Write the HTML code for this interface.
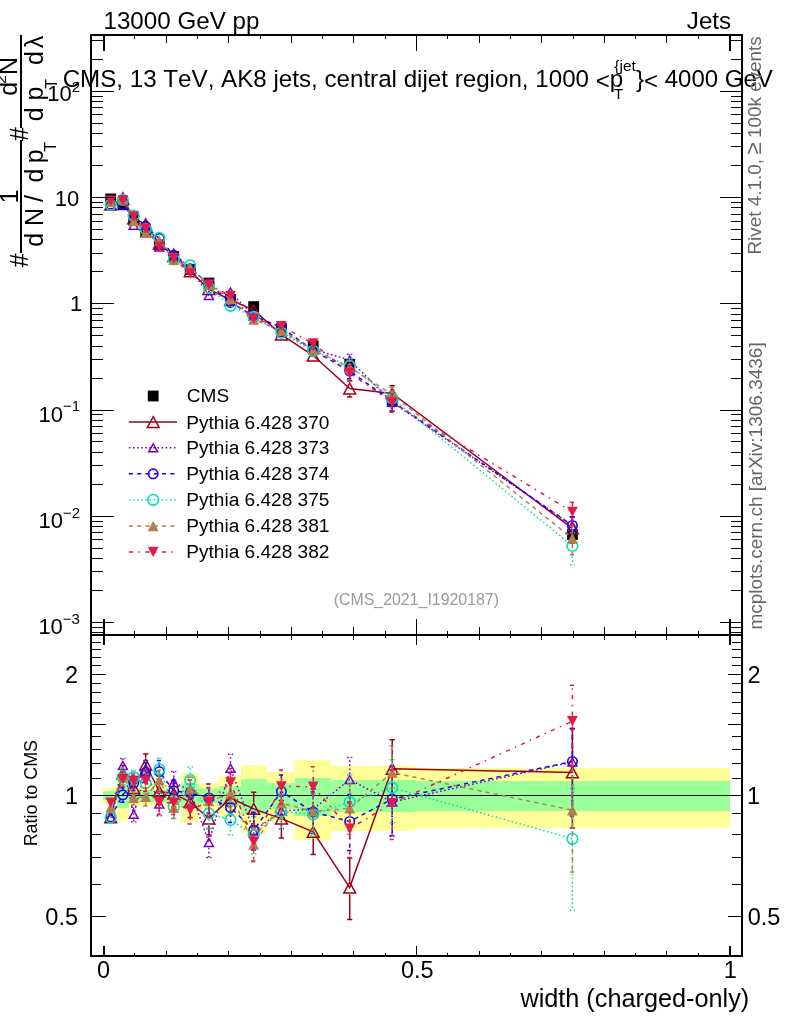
<!DOCTYPE html>
<html lang="en">
<head>
<meta charset="utf-8">
<title>width (charged-only) – CMS 13 TeV jets</title>
<style>html,body{margin:0;padding:0;background:#fff;}svg{display:block;will-change:transform;}</style>
</head>
<body>
<svg width="786" height="1024" viewBox="0 0 786 1024" font-family='"Liberation Sans", Arial, Helvetica, sans-serif' style="font-kerning:none">
<rect x="0" y="0" width="786" height="1024" fill="#fff"/>
<g shape-rendering="crispEdges">
<rect x="103.0" y="787.8" width="14.0" height="15.7" fill="#ffff99"/>
<rect x="117.0" y="773.1" width="11.5" height="48.1" fill="#ffff99"/>
<rect x="128.5" y="785.7" width="10.2" height="20.3" fill="#ffff99"/>
<rect x="138.7" y="785.3" width="14.0" height="21.0" fill="#ffff99"/>
<rect x="152.7" y="785.3" width="13.2" height="21.0" fill="#ffff99"/>
<rect x="165.9" y="785.0" width="15.2" height="21.7" fill="#ffff99"/>
<rect x="181.1" y="772.6" width="18.1" height="49.2" fill="#ffff99"/>
<rect x="199.2" y="782.9" width="19.9" height="26.2" fill="#ffff99"/>
<rect x="219.1" y="776.4" width="22.2" height="40.7" fill="#ffff99"/>
<rect x="241.3" y="764.6" width="25.7" height="68.6" fill="#ffff99"/>
<rect x="267.0" y="772.2" width="28.1" height="50.2" fill="#ffff99"/>
<rect x="295.1" y="760.0" width="35.9" height="80.2" fill="#ffff99"/>
<rect x="331.0" y="766.2" width="37.5" height="64.6" fill="#ffff99"/>
<rect x="368.5" y="766.2" width="46.9" height="64.6" fill="#ffff99"/>
<rect x="415.4" y="768.1" width="314.6" height="59.9" fill="#ffff99"/>
<rect x="103.0" y="790.9" width="14.0" height="9.4" fill="#99ff99"/>
<rect x="117.0" y="783.7" width="11.5" height="24.5" fill="#99ff99"/>
<rect x="128.5" y="789.8" width="10.2" height="11.5" fill="#99ff99"/>
<rect x="138.7" y="789.7" width="14.0" height="11.9" fill="#99ff99"/>
<rect x="152.7" y="789.7" width="13.2" height="11.9" fill="#99ff99"/>
<rect x="165.9" y="789.5" width="15.2" height="12.2" fill="#99ff99"/>
<rect x="181.1" y="783.7" width="18.1" height="24.5" fill="#99ff99"/>
<rect x="199.2" y="788.7" width="19.9" height="14.0" fill="#99ff99"/>
<rect x="219.1" y="785.8" width="22.2" height="19.9" fill="#99ff99"/>
<rect x="241.3" y="779.2" width="25.7" height="34.3" fill="#99ff99"/>
<rect x="267.0" y="782.9" width="28.1" height="26.2" fill="#99ff99"/>
<rect x="295.1" y="777.5" width="35.9" height="38.2" fill="#99ff99"/>
<rect x="331.0" y="780.1" width="37.5" height="32.2" fill="#99ff99"/>
<rect x="368.5" y="780.1" width="46.9" height="32.2" fill="#99ff99"/>
<rect x="415.4" y="781.3" width="314.6" height="29.7" fill="#99ff99"/>
</g>
<rect x="92" y="795" width="649" height="1" fill="#000"/>
<g>
<rect x="105.30" y="193.50" width="10.8" height="10.8" fill="#000"/>
<rect x="117.50" y="199.40" width="10.8" height="10.8" fill="#000"/>
<rect x="128.30" y="215.00" width="10.8" height="10.8" fill="#000"/>
<rect x="140.30" y="227.10" width="10.8" height="10.8" fill="#000"/>
<rect x="153.90" y="239.40" width="10.8" height="10.8" fill="#000"/>
<rect x="168.40" y="251.10" width="10.8" height="10.8" fill="#000"/>
<rect x="184.80" y="264.10" width="10.8" height="10.8" fill="#000"/>
<rect x="203.50" y="277.60" width="10.8" height="10.8" fill="#000"/>
<rect x="225.10" y="293.90" width="10.8" height="10.8" fill="#000"/>
<rect x="248.30" y="301.20" width="10.8" height="10.8" fill="#000"/>
<rect x="276.00" y="323.10" width="10.8" height="10.8" fill="#000"/>
<rect x="307.80" y="340.50" width="10.8" height="10.8" fill="#000"/>
<rect x="344.30" y="358.80" width="10.8" height="10.8" fill="#000"/>
<rect x="386.80" y="395.10" width="10.8" height="10.8" fill="#000"/>
<rect x="567.00" y="529.10" width="10.8" height="10.8" fill="#000"/>
<polyline points="110.70,204.66 122.90,198.93 133.70,218.42 145.70,224.30 159.30,243.72 173.80,256.02 190.20,271.27 208.90,289.11 230.50,299.96 253.70,310.14 281.40,334.61 313.20,355.50 349.70,388.55 392.20,393.44 572.40,528.39" fill="none" stroke="#9b0019" stroke-width="1.5"/>
<path d="M349.70 381.85 V380.75 M347.10 380.75 H352.30" fill="none" stroke="#9b0019" stroke-width="1.5"/>
<path d="M349.70 395.25 V397.01 M347.10 397.01 H352.30" fill="none" stroke="#9b0019" stroke-width="1.5"/>
<path d="M392.20 386.74 V385.77 M389.60 385.77 H394.80" fill="none" stroke="#9b0019" stroke-width="1.5"/>
<path d="M392.20 400.14 V402.17 M389.60 402.17 H394.80" fill="none" stroke="#9b0019" stroke-width="1.5"/>
<path d="M572.40 521.69 V516.76 M569.80 516.76 H575.00" fill="none" stroke="#9b0019" stroke-width="1.5"/>
<path d="M572.40 535.09 V543.09 M569.80 543.09 H575.00" fill="none" stroke="#9b0019" stroke-width="1.5"/>
<path d="M110.70 199.26 L116.60 210.06 L104.80 210.06 Z" fill="none" stroke="#9b0019" stroke-width="1.5" stroke-linejoin="miter"/>
<path d="M122.90 193.53 L128.80 204.33 L117.00 204.33 Z" fill="none" stroke="#9b0019" stroke-width="1.5" stroke-linejoin="miter"/>
<path d="M133.70 213.02 L139.60 223.82 L127.80 223.82 Z" fill="none" stroke="#9b0019" stroke-width="1.5" stroke-linejoin="miter"/>
<path d="M145.70 218.90 L151.60 229.70 L139.80 229.70 Z" fill="none" stroke="#9b0019" stroke-width="1.5" stroke-linejoin="miter"/>
<path d="M159.30 238.32 L165.20 249.12 L153.40 249.12 Z" fill="none" stroke="#9b0019" stroke-width="1.5" stroke-linejoin="miter"/>
<path d="M173.80 250.62 L179.70 261.42 L167.90 261.42 Z" fill="none" stroke="#9b0019" stroke-width="1.5" stroke-linejoin="miter"/>
<path d="M190.20 265.87 L196.10 276.67 L184.30 276.67 Z" fill="none" stroke="#9b0019" stroke-width="1.5" stroke-linejoin="miter"/>
<path d="M208.90 283.71 L214.80 294.51 L203.00 294.51 Z" fill="none" stroke="#9b0019" stroke-width="1.5" stroke-linejoin="miter"/>
<path d="M230.50 294.56 L236.40 305.36 L224.60 305.36 Z" fill="none" stroke="#9b0019" stroke-width="1.5" stroke-linejoin="miter"/>
<path d="M253.70 304.74 L259.60 315.54 L247.80 315.54 Z" fill="none" stroke="#9b0019" stroke-width="1.5" stroke-linejoin="miter"/>
<path d="M281.40 329.21 L287.30 340.01 L275.50 340.01 Z" fill="none" stroke="#9b0019" stroke-width="1.5" stroke-linejoin="miter"/>
<path d="M313.20 350.10 L319.10 360.90 L307.30 360.90 Z" fill="none" stroke="#9b0019" stroke-width="1.5" stroke-linejoin="miter"/>
<path d="M349.70 383.15 L355.60 393.95 L343.80 393.95 Z" fill="none" stroke="#9b0019" stroke-width="1.5" stroke-linejoin="miter"/>
<path d="M392.20 388.04 L398.10 398.84 L386.30 398.84 Z" fill="none" stroke="#9b0019" stroke-width="1.5" stroke-linejoin="miter"/>
<path d="M572.40 522.99 L578.30 533.79 L566.50 533.79 Z" fill="none" stroke="#9b0019" stroke-width="1.5" stroke-linejoin="miter"/>
<polyline points="110.70,204.72 122.90,196.87 133.70,225.37 145.70,225.76 159.30,247.02 173.80,253.04 190.20,268.18 208.90,295.40 230.50,292.08 253.70,315.99 281.40,332.60 313.20,349.52 349.70,359.97 392.20,402.22 572.40,525.64" fill="none" stroke="#7a00c0" stroke-width="1.5" stroke-dasharray="1.6 2.5"/>
<path d="M313.20 354.82 V355.18 M310.60 355.18 H315.80" fill="none" stroke="#7a00c0" stroke-width="1.5" stroke-dasharray="1.6 2.5"/>
<path d="M349.70 354.67 V354.15 M347.10 354.15 H352.30" fill="none" stroke="#7a00c0" stroke-width="1.5" stroke-dasharray="1.6 2.5"/>
<path d="M349.70 365.27 V366.32 M347.10 366.32 H352.30" fill="none" stroke="#7a00c0" stroke-width="1.5" stroke-dasharray="1.6 2.5"/>
<path d="M392.20 396.92 V393.76 M389.60 393.76 H394.80" fill="none" stroke="#7a00c0" stroke-width="1.5" stroke-dasharray="1.6 2.5"/>
<path d="M392.20 407.52 V411.27 M389.60 411.27 H394.80" fill="none" stroke="#7a00c0" stroke-width="1.5" stroke-dasharray="1.6 2.5"/>
<path d="M572.40 520.34 V516.92 M569.80 516.92 H575.00" fill="none" stroke="#7a00c0" stroke-width="1.5" stroke-dasharray="1.6 2.5"/>
<path d="M572.40 530.94 V538.86 M569.80 538.86 H575.00" fill="none" stroke="#7a00c0" stroke-width="1.5" stroke-dasharray="1.6 2.5"/>
<path d="M110.70 200.72 L115.20 208.72 L106.20 208.72 Z" fill="none" stroke="#7a00c0" stroke-width="1.5" stroke-linejoin="miter"/>
<path d="M122.90 192.87 L127.40 200.87 L118.40 200.87 Z" fill="none" stroke="#7a00c0" stroke-width="1.5" stroke-linejoin="miter"/>
<path d="M133.70 221.37 L138.20 229.37 L129.20 229.37 Z" fill="none" stroke="#7a00c0" stroke-width="1.5" stroke-linejoin="miter"/>
<path d="M145.70 221.76 L150.20 229.76 L141.20 229.76 Z" fill="none" stroke="#7a00c0" stroke-width="1.5" stroke-linejoin="miter"/>
<path d="M159.30 243.02 L163.80 251.02 L154.80 251.02 Z" fill="none" stroke="#7a00c0" stroke-width="1.5" stroke-linejoin="miter"/>
<path d="M173.80 249.04 L178.30 257.04 L169.30 257.04 Z" fill="none" stroke="#7a00c0" stroke-width="1.5" stroke-linejoin="miter"/>
<path d="M190.20 264.18 L194.70 272.18 L185.70 272.18 Z" fill="none" stroke="#7a00c0" stroke-width="1.5" stroke-linejoin="miter"/>
<path d="M208.90 291.40 L213.40 299.40 L204.40 299.40 Z" fill="none" stroke="#7a00c0" stroke-width="1.5" stroke-linejoin="miter"/>
<path d="M230.50 288.08 L235.00 296.08 L226.00 296.08 Z" fill="none" stroke="#7a00c0" stroke-width="1.5" stroke-linejoin="miter"/>
<path d="M253.70 311.99 L258.20 319.99 L249.20 319.99 Z" fill="none" stroke="#7a00c0" stroke-width="1.5" stroke-linejoin="miter"/>
<path d="M281.40 328.60 L285.90 336.60 L276.90 336.60 Z" fill="none" stroke="#7a00c0" stroke-width="1.5" stroke-linejoin="miter"/>
<path d="M313.20 345.52 L317.70 353.52 L308.70 353.52 Z" fill="none" stroke="#7a00c0" stroke-width="1.5" stroke-linejoin="miter"/>
<path d="M349.70 355.97 L354.20 363.97 L345.20 363.97 Z" fill="none" stroke="#7a00c0" stroke-width="1.5" stroke-linejoin="miter"/>
<path d="M392.20 398.22 L396.70 406.22 L387.70 406.22 Z" fill="none" stroke="#7a00c0" stroke-width="1.5" stroke-linejoin="miter"/>
<path d="M572.40 521.64 L576.90 529.64 L567.90 529.64 Z" fill="none" stroke="#7a00c0" stroke-width="1.5" stroke-linejoin="miter"/>
<polyline points="110.70,204.58 122.90,204.61 133.70,217.10 145.70,226.37 159.30,238.48 173.80,255.28 190.20,268.87 208.90,283.66 230.50,302.47 253.70,315.77 281.40,327.44 313.20,350.26 349.70,371.07 392.20,401.43 572.40,525.51" fill="none" stroke="#1e00f0" stroke-width="1.5" stroke-dasharray="4.2 4.1"/>
<path d="M313.20 355.76 V355.92 M310.60 355.92 H315.80" fill="none" stroke="#1e00f0" stroke-width="1.5" stroke-dasharray="4.2 4.1"/>
<path d="M349.70 365.57 V363.94 M347.10 363.94 H352.30" fill="none" stroke="#1e00f0" stroke-width="1.5" stroke-dasharray="4.2 4.1"/>
<path d="M349.70 376.57 V378.71 M347.10 378.71 H352.30" fill="none" stroke="#1e00f0" stroke-width="1.5" stroke-dasharray="4.2 4.1"/>
<path d="M392.20 395.93 V392.70 M389.60 392.70 H394.80" fill="none" stroke="#1e00f0" stroke-width="1.5" stroke-dasharray="4.2 4.1"/>
<path d="M392.20 406.93 V411.10 M389.60 411.10 H394.80" fill="none" stroke="#1e00f0" stroke-width="1.5" stroke-dasharray="4.2 4.1"/>
<path d="M572.40 520.01 V516.79 M569.80 516.79 H575.00" fill="none" stroke="#1e00f0" stroke-width="1.5" stroke-dasharray="4.2 4.1"/>
<path d="M572.40 531.01 V539.92 M569.80 539.92 H575.00" fill="none" stroke="#1e00f0" stroke-width="1.5" stroke-dasharray="4.2 4.1"/>
<circle cx="110.70" cy="204.58" r="4.70" fill="none" stroke="#1e00f0" stroke-width="1.6"/>
<circle cx="122.90" cy="204.61" r="4.70" fill="none" stroke="#1e00f0" stroke-width="1.6"/>
<circle cx="133.70" cy="217.10" r="4.70" fill="none" stroke="#1e00f0" stroke-width="1.6"/>
<circle cx="145.70" cy="226.37" r="4.70" fill="none" stroke="#1e00f0" stroke-width="1.6"/>
<circle cx="159.30" cy="238.48" r="4.70" fill="none" stroke="#1e00f0" stroke-width="1.6"/>
<circle cx="173.80" cy="255.28" r="4.70" fill="none" stroke="#1e00f0" stroke-width="1.6"/>
<circle cx="190.20" cy="268.87" r="4.70" fill="none" stroke="#1e00f0" stroke-width="1.6"/>
<circle cx="208.90" cy="283.66" r="4.70" fill="none" stroke="#1e00f0" stroke-width="1.6"/>
<circle cx="230.50" cy="302.47" r="4.70" fill="none" stroke="#1e00f0" stroke-width="1.6"/>
<circle cx="253.70" cy="315.77" r="4.70" fill="none" stroke="#1e00f0" stroke-width="1.6"/>
<circle cx="281.40" cy="327.44" r="4.70" fill="none" stroke="#1e00f0" stroke-width="1.6"/>
<circle cx="313.20" cy="350.26" r="4.70" fill="none" stroke="#1e00f0" stroke-width="1.6"/>
<circle cx="349.70" cy="371.07" r="4.70" fill="none" stroke="#1e00f0" stroke-width="1.6"/>
<circle cx="392.20" cy="401.43" r="4.70" fill="none" stroke="#1e00f0" stroke-width="1.6"/>
<circle cx="572.40" cy="525.51" r="4.70" fill="none" stroke="#1e00f0" stroke-width="1.6"/>
<polyline points="110.70,204.72 122.90,199.96 133.70,215.56 145.70,229.20 159.30,237.87 173.80,259.46 190.20,265.43 208.90,287.76 230.50,305.78 253.70,316.96 281.40,332.73 313.20,350.90 349.70,365.92 392.20,398.44 572.40,545.95" fill="none" stroke="#00e1b9" stroke-width="1.5" stroke-dasharray="1.6 2.5"/>
<path d="M349.70 359.77 V358.78 M347.10 358.78 H352.30" fill="none" stroke="#00e1b9" stroke-width="1.5" stroke-dasharray="1.6 2.5"/>
<path d="M349.70 372.07 V373.56 M347.10 373.56 H352.30" fill="none" stroke="#00e1b9" stroke-width="1.5" stroke-dasharray="1.6 2.5"/>
<path d="M392.20 392.29 V391.04 M389.60 391.04 H394.80" fill="none" stroke="#00e1b9" stroke-width="1.5" stroke-dasharray="1.6 2.5"/>
<path d="M392.20 404.59 V407.69 M389.60 407.69 H394.80" fill="none" stroke="#00e1b9" stroke-width="1.5" stroke-dasharray="1.6 2.5"/>
<path d="M572.40 539.80 V532.60 M569.80 532.60 H575.00" fill="none" stroke="#00e1b9" stroke-width="1.5" stroke-dasharray="1.6 2.5"/>
<path d="M572.40 552.10 V564.82 M569.80 564.82 H575.00" fill="none" stroke="#00e1b9" stroke-width="1.5" stroke-dasharray="1.6 2.5"/>
<circle cx="110.70" cy="204.72" r="5.35" fill="none" stroke="#00e1b9" stroke-width="1.6"/>
<circle cx="122.90" cy="199.96" r="5.35" fill="none" stroke="#00e1b9" stroke-width="1.6"/>
<circle cx="133.70" cy="215.56" r="5.35" fill="none" stroke="#00e1b9" stroke-width="1.6"/>
<circle cx="145.70" cy="229.20" r="5.35" fill="none" stroke="#00e1b9" stroke-width="1.6"/>
<circle cx="159.30" cy="237.87" r="5.35" fill="none" stroke="#00e1b9" stroke-width="1.6"/>
<circle cx="173.80" cy="259.46" r="5.35" fill="none" stroke="#00e1b9" stroke-width="1.6"/>
<circle cx="190.20" cy="265.43" r="5.35" fill="none" stroke="#00e1b9" stroke-width="1.6"/>
<circle cx="208.90" cy="287.76" r="5.35" fill="none" stroke="#00e1b9" stroke-width="1.6"/>
<circle cx="230.50" cy="305.78" r="5.35" fill="none" stroke="#00e1b9" stroke-width="1.6"/>
<circle cx="253.70" cy="316.96" r="5.35" fill="none" stroke="#00e1b9" stroke-width="1.6"/>
<circle cx="281.40" cy="332.73" r="5.35" fill="none" stroke="#00e1b9" stroke-width="1.6"/>
<circle cx="313.20" cy="350.90" r="5.35" fill="none" stroke="#00e1b9" stroke-width="1.6"/>
<circle cx="349.70" cy="365.92" r="5.35" fill="none" stroke="#00e1b9" stroke-width="1.6"/>
<circle cx="392.20" cy="398.44" r="5.35" fill="none" stroke="#00e1b9" stroke-width="1.6"/>
<circle cx="572.40" cy="545.95" r="5.35" fill="none" stroke="#00e1b9" stroke-width="1.6"/>
<polyline points="110.70,202.07 122.90,199.20 133.70,221.03 145.70,232.84 159.30,240.73 173.80,259.78 190.20,267.68 208.90,284.45 230.50,298.77 253.70,319.53 281.40,330.51 313.20,350.08 349.70,367.56 392.20,394.42 572.40,538.39" fill="none" stroke="#b2804d" stroke-width="1.5" stroke-dasharray="4.2 4.1"/>
<path d="M349.70 362.16 V361.13 M347.10 361.13 H352.30" fill="none" stroke="#b2804d" stroke-width="1.5" stroke-dasharray="4.2 4.1"/>
<path d="M349.70 372.96 V374.43 M347.10 374.43 H352.30" fill="none" stroke="#b2804d" stroke-width="1.5" stroke-dasharray="4.2 4.1"/>
<path d="M392.20 389.02 V387.41 M389.60 387.41 H394.80" fill="none" stroke="#b2804d" stroke-width="1.5" stroke-dasharray="4.2 4.1"/>
<path d="M392.20 399.82 V402.35 M389.60 402.35 H394.80" fill="none" stroke="#b2804d" stroke-width="1.5" stroke-dasharray="4.2 4.1"/>
<path d="M572.40 532.99 V526.36 M569.80 526.36 H575.00" fill="none" stroke="#b2804d" stroke-width="1.5" stroke-dasharray="4.2 4.1"/>
<path d="M572.40 543.79 V554.72 M569.80 554.72 H575.00" fill="none" stroke="#b2804d" stroke-width="1.5" stroke-dasharray="4.2 4.1"/>
<path d="M110.70 196.87 L116.10 207.27 L105.30 207.27 Z" fill="#b2804d"/>
<path d="M122.90 194.00 L128.30 204.40 L117.50 204.40 Z" fill="#b2804d"/>
<path d="M133.70 215.83 L139.10 226.23 L128.30 226.23 Z" fill="#b2804d"/>
<path d="M145.70 227.64 L151.10 238.04 L140.30 238.04 Z" fill="#b2804d"/>
<path d="M159.30 235.53 L164.70 245.93 L153.90 245.93 Z" fill="#b2804d"/>
<path d="M173.80 254.58 L179.20 264.98 L168.40 264.98 Z" fill="#b2804d"/>
<path d="M190.20 262.48 L195.60 272.88 L184.80 272.88 Z" fill="#b2804d"/>
<path d="M208.90 279.25 L214.30 289.65 L203.50 289.65 Z" fill="#b2804d"/>
<path d="M230.50 293.57 L235.90 303.97 L225.10 303.97 Z" fill="#b2804d"/>
<path d="M253.70 314.33 L259.10 324.73 L248.30 324.73 Z" fill="#b2804d"/>
<path d="M281.40 325.31 L286.80 335.71 L276.00 335.71 Z" fill="#b2804d"/>
<path d="M313.20 344.88 L318.60 355.28 L307.80 355.28 Z" fill="#b2804d"/>
<path d="M349.70 362.36 L355.10 372.76 L344.30 372.76 Z" fill="#b2804d"/>
<path d="M392.20 389.22 L397.60 399.62 L386.80 399.62 Z" fill="#b2804d"/>
<path d="M572.40 533.19 L577.80 543.59 L567.00 543.59 Z" fill="#b2804d"/>
<polyline points="110.70,200.78 122.90,200.49 133.70,216.57 145.70,228.67 159.30,246.73 173.80,258.43 190.20,273.36 208.90,284.61 230.50,295.86 253.70,318.84 281.40,326.09 313.20,343.57 349.70,372.98 392.20,402.51 572.40,511.86" fill="none" stroke="#e41a4b" stroke-width="1.5" stroke-dasharray="4.2 5.4 1.5 5.4"/>
<path d="M313.20 348.97 V349.23 M310.60 349.23 H315.80" fill="none" stroke="#e41a4b" stroke-width="1.5" stroke-dasharray="4.2 5.4 1.5 5.4"/>
<path d="M349.70 367.58 V365.84 M347.10 365.84 H352.30" fill="none" stroke="#e41a4b" stroke-width="1.5" stroke-dasharray="4.2 5.4 1.5 5.4"/>
<path d="M349.70 378.38 V380.62 M347.10 380.62 H352.30" fill="none" stroke="#e41a4b" stroke-width="1.5" stroke-dasharray="4.2 5.4 1.5 5.4"/>
<path d="M392.20 397.11 V393.78 M389.60 393.78 H394.80" fill="none" stroke="#e41a4b" stroke-width="1.5" stroke-dasharray="4.2 5.4 1.5 5.4"/>
<path d="M392.20 407.91 V412.16 M389.60 412.16 H394.80" fill="none" stroke="#e41a4b" stroke-width="1.5" stroke-dasharray="4.2 5.4 1.5 5.4"/>
<path d="M572.40 506.46 V502.34 M569.80 502.34 H575.00" fill="none" stroke="#e41a4b" stroke-width="1.5" stroke-dasharray="4.2 5.4 1.5 5.4"/>
<path d="M572.40 517.26 V523.89 M569.80 523.89 H575.00" fill="none" stroke="#e41a4b" stroke-width="1.5" stroke-dasharray="4.2 5.4 1.5 5.4"/>
<path d="M110.70 205.98 L116.10 195.58 L105.30 195.58 Z" fill="#e41a4b"/>
<path d="M122.90 205.69 L128.30 195.29 L117.50 195.29 Z" fill="#e41a4b"/>
<path d="M133.70 221.77 L139.10 211.37 L128.30 211.37 Z" fill="#e41a4b"/>
<path d="M145.70 233.87 L151.10 223.47 L140.30 223.47 Z" fill="#e41a4b"/>
<path d="M159.30 251.93 L164.70 241.53 L153.90 241.53 Z" fill="#e41a4b"/>
<path d="M173.80 263.63 L179.20 253.23 L168.40 253.23 Z" fill="#e41a4b"/>
<path d="M190.20 278.56 L195.60 268.16 L184.80 268.16 Z" fill="#e41a4b"/>
<path d="M208.90 289.81 L214.30 279.41 L203.50 279.41 Z" fill="#e41a4b"/>
<path d="M230.50 301.06 L235.90 290.66 L225.10 290.66 Z" fill="#e41a4b"/>
<path d="M253.70 324.04 L259.10 313.64 L248.30 313.64 Z" fill="#e41a4b"/>
<path d="M281.40 331.29 L286.80 320.89 L276.00 320.89 Z" fill="#e41a4b"/>
<path d="M313.20 348.77 L318.60 338.37 L307.80 338.37 Z" fill="#e41a4b"/>
<path d="M349.70 378.18 L355.10 367.78 L344.30 367.78 Z" fill="#e41a4b"/>
<path d="M392.20 407.71 L397.60 397.31 L386.80 397.31 Z" fill="#e41a4b"/>
<path d="M572.40 517.06 L577.80 506.66 L567.00 506.66 Z" fill="#e41a4b"/>
</g>
<g>
<polyline points="110.70,817.30 122.90,773.30 133.70,788.00 145.70,764.50 159.30,791.40 173.80,793.70 190.20,802.20 208.90,818.60 230.50,798.00 253.70,808.90 281.40,818.60 313.20,831.80 349.70,887.60 392.20,768.80 572.40,772.40" fill="none" stroke="#9b0019" stroke-width="1.5"/>
<path d="M122.90 766.60 V765.60 M120.30 765.60 H125.50" fill="none" stroke="#9b0019" stroke-width="1.5"/>
<path d="M122.90 780.00 V781.54 M120.30 781.54 H125.50" fill="none" stroke="#9b0019" stroke-width="1.5"/>
<path d="M133.70 781.30 V780.30 M131.10 780.30 H136.30" fill="none" stroke="#9b0019" stroke-width="1.5"/>
<path d="M133.70 794.70 V796.24 M131.10 796.24 H136.30" fill="none" stroke="#9b0019" stroke-width="1.5"/>
<path d="M145.70 757.80 V754.05 M143.10 754.05 H148.30" fill="none" stroke="#9b0019" stroke-width="1.5"/>
<path d="M145.70 771.20 V775.68 M143.10 775.68 H148.30" fill="none" stroke="#9b0019" stroke-width="1.5"/>
<path d="M159.30 784.70 V779.30 M156.70 779.30 H161.90" fill="none" stroke="#9b0019" stroke-width="1.5"/>
<path d="M159.30 798.10 V804.35 M156.70 804.35 H161.90" fill="none" stroke="#9b0019" stroke-width="1.5"/>
<path d="M173.80 787.00 V781.60 M171.20 781.60 H176.40" fill="none" stroke="#9b0019" stroke-width="1.5"/>
<path d="M173.80 800.40 V806.65 M171.20 806.65 H176.40" fill="none" stroke="#9b0019" stroke-width="1.5"/>
<path d="M190.20 795.50 V787.90 M187.60 787.90 H192.80" fill="none" stroke="#9b0019" stroke-width="1.5"/>
<path d="M190.20 808.90 V817.50 M187.60 817.50 H192.80" fill="none" stroke="#9b0019" stroke-width="1.5"/>
<path d="M208.90 811.90 V803.20 M206.30 803.20 H211.50" fill="none" stroke="#9b0019" stroke-width="1.5"/>
<path d="M208.90 825.30 V835.08 M206.30 835.08 H211.50" fill="none" stroke="#9b0019" stroke-width="1.5"/>
<path d="M230.50 791.30 V782.60 M227.90 782.60 H233.10" fill="none" stroke="#9b0019" stroke-width="1.5"/>
<path d="M230.50 804.70 V814.48 M227.90 814.48 H233.10" fill="none" stroke="#9b0019" stroke-width="1.5"/>
<path d="M253.70 802.20 V792.20 M251.10 792.20 H256.30" fill="none" stroke="#9b0019" stroke-width="1.5"/>
<path d="M253.70 815.60 V826.90 M251.10 826.90 H256.30" fill="none" stroke="#9b0019" stroke-width="1.5"/>
<path d="M281.40 811.90 V800.45 M278.80 800.45 H284.00" fill="none" stroke="#9b0019" stroke-width="1.5"/>
<path d="M281.40 825.30 V838.02 M278.80 838.02 H284.00" fill="none" stroke="#9b0019" stroke-width="1.5"/>
<path d="M313.20 825.10 V812.80 M310.60 812.80 H315.80" fill="none" stroke="#9b0019" stroke-width="1.5"/>
<path d="M313.20 838.50 V854.40 M310.60 854.40 H315.80" fill="none" stroke="#9b0019" stroke-width="1.5"/>
<path d="M349.70 880.90 V858.10 M347.10 858.10 H352.30" fill="none" stroke="#9b0019" stroke-width="1.5"/>
<path d="M349.70 894.30 V919.60 M347.10 919.60 H352.30" fill="none" stroke="#9b0019" stroke-width="1.5"/>
<path d="M392.20 762.10 V739.80 M389.60 739.80 H394.80" fill="none" stroke="#9b0019" stroke-width="1.5"/>
<path d="M392.20 775.50 V801.80 M389.60 801.80 H394.80" fill="none" stroke="#9b0019" stroke-width="1.5"/>
<path d="M572.40 765.70 V728.40 M569.80 728.40 H575.00" fill="none" stroke="#9b0019" stroke-width="1.5"/>
<path d="M572.40 779.10 V828.00 M569.80 828.00 H575.00" fill="none" stroke="#9b0019" stroke-width="1.5"/>
<path d="M110.70 811.90 L116.60 822.70 L104.80 822.70 Z" fill="none" stroke="#9b0019" stroke-width="1.5" stroke-linejoin="miter"/>
<path d="M122.90 767.90 L128.80 778.70 L117.00 778.70 Z" fill="none" stroke="#9b0019" stroke-width="1.5" stroke-linejoin="miter"/>
<path d="M133.70 782.60 L139.60 793.40 L127.80 793.40 Z" fill="none" stroke="#9b0019" stroke-width="1.5" stroke-linejoin="miter"/>
<path d="M145.70 759.10 L151.60 769.90 L139.80 769.90 Z" fill="none" stroke="#9b0019" stroke-width="1.5" stroke-linejoin="miter"/>
<path d="M159.30 786.00 L165.20 796.80 L153.40 796.80 Z" fill="none" stroke="#9b0019" stroke-width="1.5" stroke-linejoin="miter"/>
<path d="M173.80 788.30 L179.70 799.10 L167.90 799.10 Z" fill="none" stroke="#9b0019" stroke-width="1.5" stroke-linejoin="miter"/>
<path d="M190.20 796.80 L196.10 807.60 L184.30 807.60 Z" fill="none" stroke="#9b0019" stroke-width="1.5" stroke-linejoin="miter"/>
<path d="M208.90 813.20 L214.80 824.00 L203.00 824.00 Z" fill="none" stroke="#9b0019" stroke-width="1.5" stroke-linejoin="miter"/>
<path d="M230.50 792.60 L236.40 803.40 L224.60 803.40 Z" fill="none" stroke="#9b0019" stroke-width="1.5" stroke-linejoin="miter"/>
<path d="M253.70 803.50 L259.60 814.30 L247.80 814.30 Z" fill="none" stroke="#9b0019" stroke-width="1.5" stroke-linejoin="miter"/>
<path d="M281.40 813.20 L287.30 824.00 L275.50 824.00 Z" fill="none" stroke="#9b0019" stroke-width="1.5" stroke-linejoin="miter"/>
<path d="M313.20 826.40 L319.10 837.20 L307.30 837.20 Z" fill="none" stroke="#9b0019" stroke-width="1.5" stroke-linejoin="miter"/>
<path d="M349.70 882.20 L355.60 893.00 L343.80 893.00 Z" fill="none" stroke="#9b0019" stroke-width="1.5" stroke-linejoin="miter"/>
<path d="M392.20 763.40 L398.10 774.20 L386.30 774.20 Z" fill="none" stroke="#9b0019" stroke-width="1.5" stroke-linejoin="miter"/>
<path d="M572.40 767.00 L578.30 777.80 L566.50 777.80 Z" fill="none" stroke="#9b0019" stroke-width="1.5" stroke-linejoin="miter"/>
<polyline points="110.70,817.50 122.90,765.50 133.70,814.30 145.70,770.00 159.30,803.90 173.80,782.40 190.20,790.50 208.90,842.40 230.50,768.20 253.70,831.00 281.40,811.00 313.20,809.20 349.70,779.50 392.20,802.00 572.40,762.00" fill="none" stroke="#7a00c0" stroke-width="1.5" stroke-dasharray="1.6 2.5"/>
<path d="M122.90 760.20 V758.50 M120.30 758.50 H125.50" fill="none" stroke="#7a00c0" stroke-width="1.5" stroke-dasharray="1.6 2.5"/>
<path d="M122.90 770.80 V772.99 M120.30 772.99 H125.50" fill="none" stroke="#7a00c0" stroke-width="1.5" stroke-dasharray="1.6 2.5"/>
<path d="M133.70 809.00 V807.30 M131.10 807.30 H136.30" fill="none" stroke="#7a00c0" stroke-width="1.5" stroke-dasharray="1.6 2.5"/>
<path d="M133.70 819.60 V821.79 M131.10 821.79 H136.30" fill="none" stroke="#7a00c0" stroke-width="1.5" stroke-dasharray="1.6 2.5"/>
<path d="M145.70 764.70 V760.50 M143.10 760.50 H148.30" fill="none" stroke="#7a00c0" stroke-width="1.5" stroke-dasharray="1.6 2.5"/>
<path d="M145.70 775.30 V780.16 M143.10 780.16 H148.30" fill="none" stroke="#7a00c0" stroke-width="1.5" stroke-dasharray="1.6 2.5"/>
<path d="M159.30 798.60 V792.90 M156.70 792.90 H161.90" fill="none" stroke="#7a00c0" stroke-width="1.5" stroke-dasharray="1.6 2.5"/>
<path d="M159.30 809.20 V815.67 M156.70 815.67 H161.90" fill="none" stroke="#7a00c0" stroke-width="1.5" stroke-dasharray="1.6 2.5"/>
<path d="M173.80 777.10 V771.40 M171.20 771.40 H176.40" fill="none" stroke="#7a00c0" stroke-width="1.5" stroke-dasharray="1.6 2.5"/>
<path d="M173.80 787.70 V794.17 M171.20 794.17 H176.40" fill="none" stroke="#7a00c0" stroke-width="1.5" stroke-dasharray="1.6 2.5"/>
<path d="M190.20 785.20 V777.50 M187.60 777.50 H192.80" fill="none" stroke="#7a00c0" stroke-width="1.5" stroke-dasharray="1.6 2.5"/>
<path d="M190.20 795.80 V804.41 M187.60 804.41 H192.80" fill="none" stroke="#7a00c0" stroke-width="1.5" stroke-dasharray="1.6 2.5"/>
<path d="M208.90 837.10 V828.40 M206.30 828.40 H211.50" fill="none" stroke="#7a00c0" stroke-width="1.5" stroke-dasharray="1.6 2.5"/>
<path d="M208.90 847.70 V857.38 M206.30 857.38 H211.50" fill="none" stroke="#7a00c0" stroke-width="1.5" stroke-dasharray="1.6 2.5"/>
<path d="M230.50 762.90 V754.20 M227.90 754.20 H233.10" fill="none" stroke="#7a00c0" stroke-width="1.5" stroke-dasharray="1.6 2.5"/>
<path d="M230.50 773.50 V783.18 M227.90 783.18 H233.10" fill="none" stroke="#7a00c0" stroke-width="1.5" stroke-dasharray="1.6 2.5"/>
<path d="M253.70 825.70 V813.00 M251.10 813.00 H256.30" fill="none" stroke="#7a00c0" stroke-width="1.5" stroke-dasharray="1.6 2.5"/>
<path d="M253.70 836.30 V850.26 M251.10 850.26 H256.30" fill="none" stroke="#7a00c0" stroke-width="1.5" stroke-dasharray="1.6 2.5"/>
<path d="M281.40 805.70 V794.50 M278.80 794.50 H284.00" fill="none" stroke="#7a00c0" stroke-width="1.5" stroke-dasharray="1.6 2.5"/>
<path d="M281.40 816.30 V828.65 M278.80 828.65 H284.00" fill="none" stroke="#7a00c0" stroke-width="1.5" stroke-dasharray="1.6 2.5"/>
<path d="M313.20 803.90 V789.20 M310.60 789.20 H315.80" fill="none" stroke="#7a00c0" stroke-width="1.5" stroke-dasharray="1.6 2.5"/>
<path d="M313.20 814.50 V830.60 M310.60 830.60 H315.80" fill="none" stroke="#7a00c0" stroke-width="1.5" stroke-dasharray="1.6 2.5"/>
<path d="M349.70 774.20 V757.50 M347.10 757.50 H352.30" fill="none" stroke="#7a00c0" stroke-width="1.5" stroke-dasharray="1.6 2.5"/>
<path d="M349.70 784.80 V803.50 M347.10 803.50 H352.30" fill="none" stroke="#7a00c0" stroke-width="1.5" stroke-dasharray="1.6 2.5"/>
<path d="M392.20 796.70 V770.00 M389.60 770.00 H394.80" fill="none" stroke="#7a00c0" stroke-width="1.5" stroke-dasharray="1.6 2.5"/>
<path d="M392.20 807.30 V836.24 M389.60 836.24 H394.80" fill="none" stroke="#7a00c0" stroke-width="1.5" stroke-dasharray="1.6 2.5"/>
<path d="M572.40 756.70 V729.00 M569.80 729.00 H575.00" fill="none" stroke="#7a00c0" stroke-width="1.5" stroke-dasharray="1.6 2.5"/>
<path d="M572.40 767.30 V812.00 M569.80 812.00 H575.00" fill="none" stroke="#7a00c0" stroke-width="1.5" stroke-dasharray="1.6 2.5"/>
<path d="M110.70 813.50 L115.20 821.50 L106.20 821.50 Z" fill="none" stroke="#7a00c0" stroke-width="1.5" stroke-linejoin="miter"/>
<path d="M122.90 761.50 L127.40 769.50 L118.40 769.50 Z" fill="none" stroke="#7a00c0" stroke-width="1.5" stroke-linejoin="miter"/>
<path d="M133.70 810.30 L138.20 818.30 L129.20 818.30 Z" fill="none" stroke="#7a00c0" stroke-width="1.5" stroke-linejoin="miter"/>
<path d="M145.70 766.00 L150.20 774.00 L141.20 774.00 Z" fill="none" stroke="#7a00c0" stroke-width="1.5" stroke-linejoin="miter"/>
<path d="M159.30 799.90 L163.80 807.90 L154.80 807.90 Z" fill="none" stroke="#7a00c0" stroke-width="1.5" stroke-linejoin="miter"/>
<path d="M173.80 778.40 L178.30 786.40 L169.30 786.40 Z" fill="none" stroke="#7a00c0" stroke-width="1.5" stroke-linejoin="miter"/>
<path d="M190.20 786.50 L194.70 794.50 L185.70 794.50 Z" fill="none" stroke="#7a00c0" stroke-width="1.5" stroke-linejoin="miter"/>
<path d="M208.90 838.40 L213.40 846.40 L204.40 846.40 Z" fill="none" stroke="#7a00c0" stroke-width="1.5" stroke-linejoin="miter"/>
<path d="M230.50 764.20 L235.00 772.20 L226.00 772.20 Z" fill="none" stroke="#7a00c0" stroke-width="1.5" stroke-linejoin="miter"/>
<path d="M253.70 827.00 L258.20 835.00 L249.20 835.00 Z" fill="none" stroke="#7a00c0" stroke-width="1.5" stroke-linejoin="miter"/>
<path d="M281.40 807.00 L285.90 815.00 L276.90 815.00 Z" fill="none" stroke="#7a00c0" stroke-width="1.5" stroke-linejoin="miter"/>
<path d="M313.20 805.20 L317.70 813.20 L308.70 813.20 Z" fill="none" stroke="#7a00c0" stroke-width="1.5" stroke-linejoin="miter"/>
<path d="M349.70 775.50 L354.20 783.50 L345.20 783.50 Z" fill="none" stroke="#7a00c0" stroke-width="1.5" stroke-linejoin="miter"/>
<path d="M392.20 798.00 L396.70 806.00 L387.70 806.00 Z" fill="none" stroke="#7a00c0" stroke-width="1.5" stroke-linejoin="miter"/>
<path d="M572.40 758.00 L576.90 766.00 L567.90 766.00 Z" fill="none" stroke="#7a00c0" stroke-width="1.5" stroke-linejoin="miter"/>
<polyline points="110.70,817.00 122.90,794.80 133.70,783.00 145.70,772.30 159.30,771.60 173.80,790.90 190.20,793.10 208.90,798.00 230.50,807.50 253.70,830.20 281.40,791.50 313.20,812.00 349.70,821.50 392.20,799.00 572.40,761.50" fill="none" stroke="#1e00f0" stroke-width="1.5" stroke-dasharray="4.2 4.1"/>
<path d="M122.90 789.30 V787.80 M120.30 787.80 H125.50" fill="none" stroke="#1e00f0" stroke-width="1.5" stroke-dasharray="4.2 4.1"/>
<path d="M122.90 800.30 V802.29 M120.30 802.29 H125.50" fill="none" stroke="#1e00f0" stroke-width="1.5" stroke-dasharray="4.2 4.1"/>
<path d="M133.70 777.50 V776.00 M131.10 776.00 H136.30" fill="none" stroke="#1e00f0" stroke-width="1.5" stroke-dasharray="4.2 4.1"/>
<path d="M133.70 788.50 V790.49 M131.10 790.49 H136.30" fill="none" stroke="#1e00f0" stroke-width="1.5" stroke-dasharray="4.2 4.1"/>
<path d="M145.70 766.80 V762.80 M143.10 762.80 H148.30" fill="none" stroke="#1e00f0" stroke-width="1.5" stroke-dasharray="4.2 4.1"/>
<path d="M145.70 777.80 V782.46 M143.10 782.46 H148.30" fill="none" stroke="#1e00f0" stroke-width="1.5" stroke-dasharray="4.2 4.1"/>
<path d="M159.30 766.10 V760.60 M156.70 760.60 H161.90" fill="none" stroke="#1e00f0" stroke-width="1.5" stroke-dasharray="4.2 4.1"/>
<path d="M159.30 777.10 V783.37 M156.70 783.37 H161.90" fill="none" stroke="#1e00f0" stroke-width="1.5" stroke-dasharray="4.2 4.1"/>
<path d="M173.80 785.40 V779.90 M171.20 779.90 H176.40" fill="none" stroke="#1e00f0" stroke-width="1.5" stroke-dasharray="4.2 4.1"/>
<path d="M173.80 796.40 V802.67 M171.20 802.67 H176.40" fill="none" stroke="#1e00f0" stroke-width="1.5" stroke-dasharray="4.2 4.1"/>
<path d="M190.20 787.60 V780.10 M187.60 780.10 H192.80" fill="none" stroke="#1e00f0" stroke-width="1.5" stroke-dasharray="4.2 4.1"/>
<path d="M190.20 798.60 V807.01 M187.60 807.01 H192.80" fill="none" stroke="#1e00f0" stroke-width="1.5" stroke-dasharray="4.2 4.1"/>
<path d="M208.90 792.50 V784.00 M206.30 784.00 H211.50" fill="none" stroke="#1e00f0" stroke-width="1.5" stroke-dasharray="4.2 4.1"/>
<path d="M208.90 803.50 V812.98 M206.30 812.98 H211.50" fill="none" stroke="#1e00f0" stroke-width="1.5" stroke-dasharray="4.2 4.1"/>
<path d="M230.50 802.00 V793.50 M227.90 793.50 H233.10" fill="none" stroke="#1e00f0" stroke-width="1.5" stroke-dasharray="4.2 4.1"/>
<path d="M230.50 813.00 V822.48 M227.90 822.48 H233.10" fill="none" stroke="#1e00f0" stroke-width="1.5" stroke-dasharray="4.2 4.1"/>
<path d="M253.70 824.70 V812.20 M251.10 812.20 H256.30" fill="none" stroke="#1e00f0" stroke-width="1.5" stroke-dasharray="4.2 4.1"/>
<path d="M253.70 835.70 V849.46 M251.10 849.46 H256.30" fill="none" stroke="#1e00f0" stroke-width="1.5" stroke-dasharray="4.2 4.1"/>
<path d="M281.40 786.00 V775.00 M278.80 775.00 H284.00" fill="none" stroke="#1e00f0" stroke-width="1.5" stroke-dasharray="4.2 4.1"/>
<path d="M281.40 797.00 V809.15 M278.80 809.15 H284.00" fill="none" stroke="#1e00f0" stroke-width="1.5" stroke-dasharray="4.2 4.1"/>
<path d="M313.20 806.50 V792.00 M310.60 792.00 H315.80" fill="none" stroke="#1e00f0" stroke-width="1.5" stroke-dasharray="4.2 4.1"/>
<path d="M313.20 817.50 V833.40 M310.60 833.40 H315.80" fill="none" stroke="#1e00f0" stroke-width="1.5" stroke-dasharray="4.2 4.1"/>
<path d="M349.70 816.00 V794.50 M347.10 794.50 H352.30" fill="none" stroke="#1e00f0" stroke-width="1.5" stroke-dasharray="4.2 4.1"/>
<path d="M349.70 827.00 V850.39 M347.10 850.39 H352.30" fill="none" stroke="#1e00f0" stroke-width="1.5" stroke-dasharray="4.2 4.1"/>
<path d="M392.20 793.50 V766.00 M389.60 766.00 H394.80" fill="none" stroke="#1e00f0" stroke-width="1.5" stroke-dasharray="4.2 4.1"/>
<path d="M392.20 804.50 V835.60 M389.60 835.60 H394.80" fill="none" stroke="#1e00f0" stroke-width="1.5" stroke-dasharray="4.2 4.1"/>
<path d="M572.40 756.00 V728.50 M569.80 728.50 H575.00" fill="none" stroke="#1e00f0" stroke-width="1.5" stroke-dasharray="4.2 4.1"/>
<path d="M572.40 767.00 V816.00 M569.80 816.00 H575.00" fill="none" stroke="#1e00f0" stroke-width="1.5" stroke-dasharray="4.2 4.1"/>
<circle cx="110.70" cy="817.00" r="4.70" fill="none" stroke="#1e00f0" stroke-width="1.6"/>
<circle cx="122.90" cy="794.80" r="4.70" fill="none" stroke="#1e00f0" stroke-width="1.6"/>
<circle cx="133.70" cy="783.00" r="4.70" fill="none" stroke="#1e00f0" stroke-width="1.6"/>
<circle cx="145.70" cy="772.30" r="4.70" fill="none" stroke="#1e00f0" stroke-width="1.6"/>
<circle cx="159.30" cy="771.60" r="4.70" fill="none" stroke="#1e00f0" stroke-width="1.6"/>
<circle cx="173.80" cy="790.90" r="4.70" fill="none" stroke="#1e00f0" stroke-width="1.6"/>
<circle cx="190.20" cy="793.10" r="4.70" fill="none" stroke="#1e00f0" stroke-width="1.6"/>
<circle cx="208.90" cy="798.00" r="4.70" fill="none" stroke="#1e00f0" stroke-width="1.6"/>
<circle cx="230.50" cy="807.50" r="4.70" fill="none" stroke="#1e00f0" stroke-width="1.6"/>
<circle cx="253.70" cy="830.20" r="4.70" fill="none" stroke="#1e00f0" stroke-width="1.6"/>
<circle cx="281.40" cy="791.50" r="4.70" fill="none" stroke="#1e00f0" stroke-width="1.6"/>
<circle cx="313.20" cy="812.00" r="4.70" fill="none" stroke="#1e00f0" stroke-width="1.6"/>
<circle cx="349.70" cy="821.50" r="4.70" fill="none" stroke="#1e00f0" stroke-width="1.6"/>
<circle cx="392.20" cy="799.00" r="4.70" fill="none" stroke="#1e00f0" stroke-width="1.6"/>
<circle cx="572.40" cy="761.50" r="4.70" fill="none" stroke="#1e00f0" stroke-width="1.6"/>
<polyline points="110.70,817.50 122.90,777.20 133.70,777.20 145.70,783.00 159.30,769.30 173.80,806.70 190.20,780.10 208.90,813.50 230.50,820.00 253.70,834.70 281.40,811.50 313.20,814.40 349.70,802.00 392.20,787.70 572.40,838.80" fill="none" stroke="#00e1b9" stroke-width="1.5" stroke-dasharray="1.6 2.5"/>
<path d="M122.90 771.05 V770.20 M120.30 770.20 H125.50" fill="none" stroke="#00e1b9" stroke-width="1.5" stroke-dasharray="1.6 2.5"/>
<path d="M122.90 783.35 V784.69 M120.30 784.69 H125.50" fill="none" stroke="#00e1b9" stroke-width="1.5" stroke-dasharray="1.6 2.5"/>
<path d="M133.70 771.05 V770.20 M131.10 770.20 H136.30" fill="none" stroke="#00e1b9" stroke-width="1.5" stroke-dasharray="1.6 2.5"/>
<path d="M133.70 783.35 V784.69 M131.10 784.69 H136.30" fill="none" stroke="#00e1b9" stroke-width="1.5" stroke-dasharray="1.6 2.5"/>
<path d="M145.70 776.85 V773.50 M143.10 773.50 H148.30" fill="none" stroke="#00e1b9" stroke-width="1.5" stroke-dasharray="1.6 2.5"/>
<path d="M145.70 789.15 V793.16 M143.10 793.16 H148.30" fill="none" stroke="#00e1b9" stroke-width="1.5" stroke-dasharray="1.6 2.5"/>
<path d="M159.30 763.15 V758.30 M156.70 758.30 H161.90" fill="none" stroke="#00e1b9" stroke-width="1.5" stroke-dasharray="1.6 2.5"/>
<path d="M159.30 775.45 V781.07 M156.70 781.07 H161.90" fill="none" stroke="#00e1b9" stroke-width="1.5" stroke-dasharray="1.6 2.5"/>
<path d="M173.80 800.55 V795.70 M171.20 795.70 H176.40" fill="none" stroke="#00e1b9" stroke-width="1.5" stroke-dasharray="1.6 2.5"/>
<path d="M173.80 812.85 V818.47 M171.20 818.47 H176.40" fill="none" stroke="#00e1b9" stroke-width="1.5" stroke-dasharray="1.6 2.5"/>
<path d="M190.20 773.95 V767.10 M187.60 767.10 H192.80" fill="none" stroke="#00e1b9" stroke-width="1.5" stroke-dasharray="1.6 2.5"/>
<path d="M190.20 786.25 V794.01 M187.60 794.01 H192.80" fill="none" stroke="#00e1b9" stroke-width="1.5" stroke-dasharray="1.6 2.5"/>
<path d="M208.90 807.35 V799.50 M206.30 799.50 H211.50" fill="none" stroke="#00e1b9" stroke-width="1.5" stroke-dasharray="1.6 2.5"/>
<path d="M208.90 819.65 V828.48 M206.30 828.48 H211.50" fill="none" stroke="#00e1b9" stroke-width="1.5" stroke-dasharray="1.6 2.5"/>
<path d="M230.50 813.85 V806.00 M227.90 806.00 H233.10" fill="none" stroke="#00e1b9" stroke-width="1.5" stroke-dasharray="1.6 2.5"/>
<path d="M230.50 826.15 V834.98 M227.90 834.98 H233.10" fill="none" stroke="#00e1b9" stroke-width="1.5" stroke-dasharray="1.6 2.5"/>
<path d="M253.70 828.55 V816.70 M251.10 816.70 H256.30" fill="none" stroke="#00e1b9" stroke-width="1.5" stroke-dasharray="1.6 2.5"/>
<path d="M253.70 840.85 V853.96 M251.10 853.96 H256.30" fill="none" stroke="#00e1b9" stroke-width="1.5" stroke-dasharray="1.6 2.5"/>
<path d="M281.40 805.35 V795.00 M278.80 795.00 H284.00" fill="none" stroke="#00e1b9" stroke-width="1.5" stroke-dasharray="1.6 2.5"/>
<path d="M281.40 817.65 V829.15 M278.80 829.15 H284.00" fill="none" stroke="#00e1b9" stroke-width="1.5" stroke-dasharray="1.6 2.5"/>
<path d="M313.20 808.25 V794.40 M310.60 794.40 H315.80" fill="none" stroke="#00e1b9" stroke-width="1.5" stroke-dasharray="1.6 2.5"/>
<path d="M313.20 820.55 V835.80 M310.60 835.80 H315.80" fill="none" stroke="#00e1b9" stroke-width="1.5" stroke-dasharray="1.6 2.5"/>
<path d="M349.70 795.85 V775.00 M347.10 775.00 H352.30" fill="none" stroke="#00e1b9" stroke-width="1.5" stroke-dasharray="1.6 2.5"/>
<path d="M349.70 808.15 V830.89 M347.10 830.89 H352.30" fill="none" stroke="#00e1b9" stroke-width="1.5" stroke-dasharray="1.6 2.5"/>
<path d="M392.20 781.55 V759.70 M389.60 759.70 H394.80" fill="none" stroke="#00e1b9" stroke-width="1.5" stroke-dasharray="1.6 2.5"/>
<path d="M392.20 793.85 V822.70 M389.60 822.70 H394.80" fill="none" stroke="#00e1b9" stroke-width="1.5" stroke-dasharray="1.6 2.5"/>
<path d="M572.40 832.65 V788.30 M569.80 788.30 H575.00" fill="none" stroke="#00e1b9" stroke-width="1.5" stroke-dasharray="1.6 2.5"/>
<path d="M572.40 844.95 V910.20 M569.80 910.20 H575.00" fill="none" stroke="#00e1b9" stroke-width="1.5" stroke-dasharray="1.6 2.5"/>
<circle cx="110.70" cy="817.50" r="5.35" fill="none" stroke="#00e1b9" stroke-width="1.6"/>
<circle cx="122.90" cy="777.20" r="5.35" fill="none" stroke="#00e1b9" stroke-width="1.6"/>
<circle cx="133.70" cy="777.20" r="5.35" fill="none" stroke="#00e1b9" stroke-width="1.6"/>
<circle cx="145.70" cy="783.00" r="5.35" fill="none" stroke="#00e1b9" stroke-width="1.6"/>
<circle cx="159.30" cy="769.30" r="5.35" fill="none" stroke="#00e1b9" stroke-width="1.6"/>
<circle cx="173.80" cy="806.70" r="5.35" fill="none" stroke="#00e1b9" stroke-width="1.6"/>
<circle cx="190.20" cy="780.10" r="5.35" fill="none" stroke="#00e1b9" stroke-width="1.6"/>
<circle cx="208.90" cy="813.50" r="5.35" fill="none" stroke="#00e1b9" stroke-width="1.6"/>
<circle cx="230.50" cy="820.00" r="5.35" fill="none" stroke="#00e1b9" stroke-width="1.6"/>
<circle cx="253.70" cy="834.70" r="5.35" fill="none" stroke="#00e1b9" stroke-width="1.6"/>
<circle cx="281.40" cy="811.50" r="5.35" fill="none" stroke="#00e1b9" stroke-width="1.6"/>
<circle cx="313.20" cy="814.40" r="5.35" fill="none" stroke="#00e1b9" stroke-width="1.6"/>
<circle cx="349.70" cy="802.00" r="5.35" fill="none" stroke="#00e1b9" stroke-width="1.6"/>
<circle cx="392.20" cy="787.70" r="5.35" fill="none" stroke="#00e1b9" stroke-width="1.6"/>
<circle cx="572.40" cy="838.80" r="5.35" fill="none" stroke="#00e1b9" stroke-width="1.6"/>
<polyline points="110.70,807.50 122.90,774.30 133.70,797.90 145.70,796.80 159.30,780.10 173.80,807.90 190.20,788.60 208.90,801.00 230.50,793.50 253.70,844.40 281.40,803.10 313.20,811.30 349.70,808.20 392.20,772.50 572.40,810.20" fill="none" stroke="#b2804d" stroke-width="1.5" stroke-dasharray="4.2 4.1"/>
<path d="M122.90 768.90 V768.00 M120.30 768.00 H125.50" fill="none" stroke="#b2804d" stroke-width="1.5" stroke-dasharray="4.2 4.1"/>
<path d="M122.90 779.70 V781.04 M120.30 781.04 H125.50" fill="none" stroke="#b2804d" stroke-width="1.5" stroke-dasharray="4.2 4.1"/>
<path d="M133.70 792.50 V791.60 M131.10 791.60 H136.30" fill="none" stroke="#b2804d" stroke-width="1.5" stroke-dasharray="4.2 4.1"/>
<path d="M133.70 803.30 V804.64 M131.10 804.64 H136.30" fill="none" stroke="#b2804d" stroke-width="1.5" stroke-dasharray="4.2 4.1"/>
<path d="M145.70 791.40 V788.25 M143.10 788.25 H148.30" fill="none" stroke="#b2804d" stroke-width="1.5" stroke-dasharray="4.2 4.1"/>
<path d="M145.70 802.20 V805.95 M143.10 805.95 H148.30" fill="none" stroke="#b2804d" stroke-width="1.5" stroke-dasharray="4.2 4.1"/>
<path d="M159.30 774.70 V770.20 M156.70 770.20 H161.90" fill="none" stroke="#b2804d" stroke-width="1.5" stroke-dasharray="4.2 4.1"/>
<path d="M159.30 785.50 V790.69 M156.70 790.69 H161.90" fill="none" stroke="#b2804d" stroke-width="1.5" stroke-dasharray="4.2 4.1"/>
<path d="M173.80 802.50 V798.00 M171.20 798.00 H176.40" fill="none" stroke="#b2804d" stroke-width="1.5" stroke-dasharray="4.2 4.1"/>
<path d="M173.80 813.30 V818.49 M171.20 818.49 H176.40" fill="none" stroke="#b2804d" stroke-width="1.5" stroke-dasharray="4.2 4.1"/>
<path d="M190.20 783.20 V776.90 M187.60 776.90 H192.80" fill="none" stroke="#b2804d" stroke-width="1.5" stroke-dasharray="4.2 4.1"/>
<path d="M190.20 794.00 V801.12 M187.60 801.12 H192.80" fill="none" stroke="#b2804d" stroke-width="1.5" stroke-dasharray="4.2 4.1"/>
<path d="M208.90 795.60 V788.40 M206.30 788.40 H211.50" fill="none" stroke="#b2804d" stroke-width="1.5" stroke-dasharray="4.2 4.1"/>
<path d="M208.90 806.40 V814.48 M206.30 814.48 H211.50" fill="none" stroke="#b2804d" stroke-width="1.5" stroke-dasharray="4.2 4.1"/>
<path d="M230.50 788.10 V780.90 M227.90 780.90 H233.10" fill="none" stroke="#b2804d" stroke-width="1.5" stroke-dasharray="4.2 4.1"/>
<path d="M230.50 798.90 V806.98 M227.90 806.98 H233.10" fill="none" stroke="#b2804d" stroke-width="1.5" stroke-dasharray="4.2 4.1"/>
<path d="M253.70 839.00 V828.20 M251.10 828.20 H256.30" fill="none" stroke="#b2804d" stroke-width="1.5" stroke-dasharray="4.2 4.1"/>
<path d="M253.70 849.80 V861.73 M251.10 861.73 H256.30" fill="none" stroke="#b2804d" stroke-width="1.5" stroke-dasharray="4.2 4.1"/>
<path d="M281.40 797.70 V788.25 M278.80 788.25 H284.00" fill="none" stroke="#b2804d" stroke-width="1.5" stroke-dasharray="4.2 4.1"/>
<path d="M281.40 808.50 V818.99 M278.80 818.99 H284.00" fill="none" stroke="#b2804d" stroke-width="1.5" stroke-dasharray="4.2 4.1"/>
<path d="M313.20 805.90 V793.30 M310.60 793.30 H315.80" fill="none" stroke="#b2804d" stroke-width="1.5" stroke-dasharray="4.2 4.1"/>
<path d="M313.20 816.70 V830.56 M310.60 830.56 H315.80" fill="none" stroke="#b2804d" stroke-width="1.5" stroke-dasharray="4.2 4.1"/>
<path d="M349.70 802.80 V783.90 M347.10 783.90 H352.30" fill="none" stroke="#b2804d" stroke-width="1.5" stroke-dasharray="4.2 4.1"/>
<path d="M349.70 813.60 V834.20 M347.10 834.20 H352.30" fill="none" stroke="#b2804d" stroke-width="1.5" stroke-dasharray="4.2 4.1"/>
<path d="M392.20 767.10 V746.00 M389.60 746.00 H394.80" fill="none" stroke="#b2804d" stroke-width="1.5" stroke-dasharray="4.2 4.1"/>
<path d="M392.20 777.90 V802.50 M389.60 802.50 H394.80" fill="none" stroke="#b2804d" stroke-width="1.5" stroke-dasharray="4.2 4.1"/>
<path d="M572.40 804.80 V764.70 M569.80 764.70 H575.00" fill="none" stroke="#b2804d" stroke-width="1.5" stroke-dasharray="4.2 4.1"/>
<path d="M572.40 815.60 V872.00 M569.80 872.00 H575.00" fill="none" stroke="#b2804d" stroke-width="1.5" stroke-dasharray="4.2 4.1"/>
<path d="M110.70 802.30 L116.10 812.70 L105.30 812.70 Z" fill="#b2804d"/>
<path d="M122.90 769.10 L128.30 779.50 L117.50 779.50 Z" fill="#b2804d"/>
<path d="M133.70 792.70 L139.10 803.10 L128.30 803.10 Z" fill="#b2804d"/>
<path d="M145.70 791.60 L151.10 802.00 L140.30 802.00 Z" fill="#b2804d"/>
<path d="M159.30 774.90 L164.70 785.30 L153.90 785.30 Z" fill="#b2804d"/>
<path d="M173.80 802.70 L179.20 813.10 L168.40 813.10 Z" fill="#b2804d"/>
<path d="M190.20 783.40 L195.60 793.80 L184.80 793.80 Z" fill="#b2804d"/>
<path d="M208.90 795.80 L214.30 806.20 L203.50 806.20 Z" fill="#b2804d"/>
<path d="M230.50 788.30 L235.90 798.70 L225.10 798.70 Z" fill="#b2804d"/>
<path d="M253.70 839.20 L259.10 849.60 L248.30 849.60 Z" fill="#b2804d"/>
<path d="M281.40 797.90 L286.80 808.30 L276.00 808.30 Z" fill="#b2804d"/>
<path d="M313.20 806.10 L318.60 816.50 L307.80 816.50 Z" fill="#b2804d"/>
<path d="M349.70 803.00 L355.10 813.40 L344.30 813.40 Z" fill="#b2804d"/>
<path d="M392.20 767.30 L397.60 777.70 L386.80 777.70 Z" fill="#b2804d"/>
<path d="M572.40 805.00 L577.80 815.40 L567.00 815.40 Z" fill="#b2804d"/>
<polyline points="110.70,802.60 122.90,779.20 133.70,781.00 145.70,781.00 159.30,802.80 173.80,802.80 190.20,810.10 208.90,801.60 230.50,782.50 253.70,841.80 281.40,786.40 313.20,786.70 349.70,828.70 392.20,803.10 572.40,721.20" fill="none" stroke="#e41a4b" stroke-width="1.5" stroke-dasharray="4.2 5.4 1.5 5.4"/>
<path d="M122.90 773.80 V772.20 M120.30 772.20 H125.50" fill="none" stroke="#e41a4b" stroke-width="1.5" stroke-dasharray="4.2 5.4 1.5 5.4"/>
<path d="M122.90 784.60 V786.69 M120.30 786.69 H125.50" fill="none" stroke="#e41a4b" stroke-width="1.5" stroke-dasharray="4.2 5.4 1.5 5.4"/>
<path d="M133.70 775.60 V774.00 M131.10 774.00 H136.30" fill="none" stroke="#e41a4b" stroke-width="1.5" stroke-dasharray="4.2 5.4 1.5 5.4"/>
<path d="M133.70 786.40 V788.49 M131.10 788.49 H136.30" fill="none" stroke="#e41a4b" stroke-width="1.5" stroke-dasharray="4.2 5.4 1.5 5.4"/>
<path d="M145.70 775.60 V771.50 M143.10 771.50 H148.30" fill="none" stroke="#e41a4b" stroke-width="1.5" stroke-dasharray="4.2 5.4 1.5 5.4"/>
<path d="M145.70 786.40 V791.16 M143.10 791.16 H148.30" fill="none" stroke="#e41a4b" stroke-width="1.5" stroke-dasharray="4.2 5.4 1.5 5.4"/>
<path d="M159.30 797.40 V791.80 M156.70 791.80 H161.90" fill="none" stroke="#e41a4b" stroke-width="1.5" stroke-dasharray="4.2 5.4 1.5 5.4"/>
<path d="M159.30 808.20 V814.57 M156.70 814.57 H161.90" fill="none" stroke="#e41a4b" stroke-width="1.5" stroke-dasharray="4.2 5.4 1.5 5.4"/>
<path d="M173.80 797.40 V791.80 M171.20 791.80 H176.40" fill="none" stroke="#e41a4b" stroke-width="1.5" stroke-dasharray="4.2 5.4 1.5 5.4"/>
<path d="M173.80 808.20 V814.57 M171.20 814.57 H176.40" fill="none" stroke="#e41a4b" stroke-width="1.5" stroke-dasharray="4.2 5.4 1.5 5.4"/>
<path d="M190.20 804.70 V797.10 M187.60 797.10 H192.80" fill="none" stroke="#e41a4b" stroke-width="1.5" stroke-dasharray="4.2 5.4 1.5 5.4"/>
<path d="M190.20 815.50 V824.01 M187.60 824.01 H192.80" fill="none" stroke="#e41a4b" stroke-width="1.5" stroke-dasharray="4.2 5.4 1.5 5.4"/>
<path d="M208.90 796.20 V787.60 M206.30 787.60 H211.50" fill="none" stroke="#e41a4b" stroke-width="1.5" stroke-dasharray="4.2 5.4 1.5 5.4"/>
<path d="M208.90 807.00 V816.58 M206.30 816.58 H211.50" fill="none" stroke="#e41a4b" stroke-width="1.5" stroke-dasharray="4.2 5.4 1.5 5.4"/>
<path d="M230.50 777.10 V768.50 M227.90 768.50 H233.10" fill="none" stroke="#e41a4b" stroke-width="1.5" stroke-dasharray="4.2 5.4 1.5 5.4"/>
<path d="M230.50 787.90 V797.48 M227.90 797.48 H233.10" fill="none" stroke="#e41a4b" stroke-width="1.5" stroke-dasharray="4.2 5.4 1.5 5.4"/>
<path d="M253.70 836.40 V823.80 M251.10 823.80 H256.30" fill="none" stroke="#e41a4b" stroke-width="1.5" stroke-dasharray="4.2 5.4 1.5 5.4"/>
<path d="M253.70 847.20 V861.06 M251.10 861.06 H256.30" fill="none" stroke="#e41a4b" stroke-width="1.5" stroke-dasharray="4.2 5.4 1.5 5.4"/>
<path d="M281.40 781.00 V769.90 M278.80 769.90 H284.00" fill="none" stroke="#e41a4b" stroke-width="1.5" stroke-dasharray="4.2 5.4 1.5 5.4"/>
<path d="M281.40 791.80 V804.05 M278.80 804.05 H284.00" fill="none" stroke="#e41a4b" stroke-width="1.5" stroke-dasharray="4.2 5.4 1.5 5.4"/>
<path d="M313.20 781.30 V766.70 M310.60 766.70 H315.80" fill="none" stroke="#e41a4b" stroke-width="1.5" stroke-dasharray="4.2 5.4 1.5 5.4"/>
<path d="M313.20 792.10 V808.10 M310.60 808.10 H315.80" fill="none" stroke="#e41a4b" stroke-width="1.5" stroke-dasharray="4.2 5.4 1.5 5.4"/>
<path d="M349.70 823.30 V801.70 M347.10 801.70 H352.30" fill="none" stroke="#e41a4b" stroke-width="1.5" stroke-dasharray="4.2 5.4 1.5 5.4"/>
<path d="M349.70 834.10 V857.59 M347.10 857.59 H352.30" fill="none" stroke="#e41a4b" stroke-width="1.5" stroke-dasharray="4.2 5.4 1.5 5.4"/>
<path d="M392.20 797.70 V770.10 M389.60 770.10 H394.80" fill="none" stroke="#e41a4b" stroke-width="1.5" stroke-dasharray="4.2 5.4 1.5 5.4"/>
<path d="M392.20 808.50 V839.60 M389.60 839.60 H394.80" fill="none" stroke="#e41a4b" stroke-width="1.5" stroke-dasharray="4.2 5.4 1.5 5.4"/>
<path d="M572.40 715.80 V685.20 M569.80 685.20 H575.00" fill="none" stroke="#e41a4b" stroke-width="1.5" stroke-dasharray="4.2 5.4 1.5 5.4"/>
<path d="M572.40 726.60 V766.70 M569.80 766.70 H575.00" fill="none" stroke="#e41a4b" stroke-width="1.5" stroke-dasharray="4.2 5.4 1.5 5.4"/>
<path d="M110.70 807.80 L116.10 797.40 L105.30 797.40 Z" fill="#e41a4b"/>
<path d="M122.90 784.40 L128.30 774.00 L117.50 774.00 Z" fill="#e41a4b"/>
<path d="M133.70 786.20 L139.10 775.80 L128.30 775.80 Z" fill="#e41a4b"/>
<path d="M145.70 786.20 L151.10 775.80 L140.30 775.80 Z" fill="#e41a4b"/>
<path d="M159.30 808.00 L164.70 797.60 L153.90 797.60 Z" fill="#e41a4b"/>
<path d="M173.80 808.00 L179.20 797.60 L168.40 797.60 Z" fill="#e41a4b"/>
<path d="M190.20 815.30 L195.60 804.90 L184.80 804.90 Z" fill="#e41a4b"/>
<path d="M208.90 806.80 L214.30 796.40 L203.50 796.40 Z" fill="#e41a4b"/>
<path d="M230.50 787.70 L235.90 777.30 L225.10 777.30 Z" fill="#e41a4b"/>
<path d="M253.70 847.00 L259.10 836.60 L248.30 836.60 Z" fill="#e41a4b"/>
<path d="M281.40 791.60 L286.80 781.20 L276.00 781.20 Z" fill="#e41a4b"/>
<path d="M313.20 791.90 L318.60 781.50 L307.80 781.50 Z" fill="#e41a4b"/>
<path d="M349.70 833.90 L355.10 823.50 L344.30 823.50 Z" fill="#e41a4b"/>
<path d="M392.20 808.30 L397.60 797.90 L386.80 797.90 Z" fill="#e41a4b"/>
<path d="M572.40 726.40 L577.80 716.00 L567.00 716.00 Z" fill="#e41a4b"/>
</g>
<g shape-rendering="crispEdges" fill="#000">
<rect x="90" y="34" width="2" height="923"/>
<rect x="741" y="34" width="2" height="923"/>
<rect x="90" y="34" width="653" height="2"/>
<rect x="90" y="634" width="653" height="2"/>
<rect x="90" y="955" width="653" height="2"/>
<rect x="103" y="36" width="2" height="15"/>
<rect x="103" y="619" width="2" height="15"/>
<rect x="103" y="636" width="2" height="9"/>
<rect x="103" y="946" width="2" height="9"/>
<rect x="134" y="36" width="1" height="3"/>
<rect x="134" y="631" width="1" height="3"/>
<rect x="134" y="636" width="1" height="2"/>
<rect x="134" y="953" width="1" height="2"/>
<rect x="166" y="36" width="1" height="7"/>
<rect x="166" y="627" width="1" height="7"/>
<rect x="166" y="636" width="1" height="4"/>
<rect x="166" y="951" width="1" height="4"/>
<rect x="197" y="36" width="1" height="3"/>
<rect x="197" y="631" width="1" height="3"/>
<rect x="197" y="636" width="1" height="2"/>
<rect x="197" y="953" width="1" height="2"/>
<rect x="228" y="36" width="1" height="7"/>
<rect x="228" y="627" width="1" height="7"/>
<rect x="228" y="636" width="1" height="4"/>
<rect x="228" y="951" width="1" height="4"/>
<rect x="260" y="36" width="1" height="3"/>
<rect x="260" y="631" width="1" height="3"/>
<rect x="260" y="636" width="1" height="2"/>
<rect x="260" y="953" width="1" height="2"/>
<rect x="291" y="36" width="1" height="7"/>
<rect x="291" y="627" width="1" height="7"/>
<rect x="291" y="636" width="1" height="4"/>
<rect x="291" y="951" width="1" height="4"/>
<rect x="322" y="36" width="1" height="3"/>
<rect x="322" y="631" width="1" height="3"/>
<rect x="322" y="636" width="1" height="2"/>
<rect x="322" y="953" width="1" height="2"/>
<rect x="353" y="36" width="1" height="7"/>
<rect x="353" y="627" width="1" height="7"/>
<rect x="353" y="636" width="1" height="4"/>
<rect x="353" y="951" width="1" height="4"/>
<rect x="385" y="36" width="1" height="3"/>
<rect x="385" y="631" width="1" height="3"/>
<rect x="385" y="636" width="1" height="2"/>
<rect x="385" y="953" width="1" height="2"/>
<rect x="416" y="36" width="1" height="15"/>
<rect x="416" y="619" width="1" height="15"/>
<rect x="416" y="636" width="1" height="9"/>
<rect x="416" y="946" width="1" height="9"/>
<rect x="447" y="36" width="1" height="3"/>
<rect x="447" y="631" width="1" height="3"/>
<rect x="447" y="636" width="1" height="2"/>
<rect x="447" y="953" width="1" height="2"/>
<rect x="479" y="36" width="1" height="7"/>
<rect x="479" y="627" width="1" height="7"/>
<rect x="479" y="636" width="1" height="4"/>
<rect x="479" y="951" width="1" height="4"/>
<rect x="510" y="36" width="1" height="3"/>
<rect x="510" y="631" width="1" height="3"/>
<rect x="510" y="636" width="1" height="2"/>
<rect x="510" y="953" width="1" height="2"/>
<rect x="541" y="36" width="1" height="7"/>
<rect x="541" y="627" width="1" height="7"/>
<rect x="541" y="636" width="1" height="4"/>
<rect x="541" y="951" width="1" height="4"/>
<rect x="573" y="36" width="1" height="3"/>
<rect x="573" y="631" width="1" height="3"/>
<rect x="573" y="636" width="1" height="2"/>
<rect x="573" y="953" width="1" height="2"/>
<rect x="604" y="36" width="1" height="7"/>
<rect x="604" y="627" width="1" height="7"/>
<rect x="604" y="636" width="1" height="4"/>
<rect x="604" y="951" width="1" height="4"/>
<rect x="635" y="36" width="1" height="3"/>
<rect x="635" y="631" width="1" height="3"/>
<rect x="635" y="636" width="1" height="2"/>
<rect x="635" y="953" width="1" height="2"/>
<rect x="666" y="36" width="1" height="7"/>
<rect x="666" y="627" width="1" height="7"/>
<rect x="666" y="636" width="1" height="4"/>
<rect x="666" y="951" width="1" height="4"/>
<rect x="698" y="36" width="1" height="3"/>
<rect x="698" y="631" width="1" height="3"/>
<rect x="698" y="636" width="1" height="2"/>
<rect x="698" y="953" width="1" height="2"/>
<rect x="729" y="36" width="2" height="15"/>
<rect x="729" y="619" width="2" height="15"/>
<rect x="729" y="636" width="2" height="9"/>
<rect x="729" y="946" width="2" height="9"/>
<rect x="92" y="632" width="11" height="1"/>
<rect x="731" y="632" width="10" height="1"/>
<rect x="92" y="627" width="11" height="1"/>
<rect x="731" y="627" width="10" height="1"/>
<rect x="92" y="622" width="22" height="1"/>
<rect x="720" y="622" width="21" height="1"/>
<rect x="92" y="590" width="11" height="1"/>
<rect x="731" y="590" width="10" height="1"/>
<rect x="92" y="571" width="11" height="1"/>
<rect x="731" y="571" width="10" height="1"/>
<rect x="92" y="558" width="11" height="1"/>
<rect x="731" y="558" width="10" height="1"/>
<rect x="92" y="548" width="11" height="1"/>
<rect x="731" y="548" width="10" height="1"/>
<rect x="92" y="539" width="11" height="1"/>
<rect x="731" y="539" width="10" height="1"/>
<rect x="92" y="532" width="11" height="1"/>
<rect x="731" y="532" width="10" height="1"/>
<rect x="92" y="526" width="11" height="1"/>
<rect x="731" y="526" width="10" height="1"/>
<rect x="92" y="521" width="11" height="1"/>
<rect x="731" y="521" width="10" height="1"/>
<rect x="92" y="516" width="22" height="1"/>
<rect x="720" y="516" width="21" height="1"/>
<rect x="92" y="484" width="11" height="1"/>
<rect x="731" y="484" width="10" height="1"/>
<rect x="92" y="465" width="11" height="1"/>
<rect x="731" y="465" width="10" height="1"/>
<rect x="92" y="452" width="11" height="1"/>
<rect x="731" y="452" width="10" height="1"/>
<rect x="92" y="441" width="11" height="1"/>
<rect x="731" y="441" width="10" height="1"/>
<rect x="92" y="433" width="11" height="1"/>
<rect x="731" y="433" width="10" height="1"/>
<rect x="92" y="426" width="11" height="1"/>
<rect x="731" y="426" width="10" height="1"/>
<rect x="92" y="420" width="11" height="1"/>
<rect x="731" y="420" width="10" height="1"/>
<rect x="92" y="414" width="11" height="1"/>
<rect x="731" y="414" width="10" height="1"/>
<rect x="92" y="410" width="22" height="1"/>
<rect x="720" y="410" width="21" height="1"/>
<rect x="92" y="378" width="11" height="1"/>
<rect x="731" y="378" width="10" height="1"/>
<rect x="92" y="359" width="11" height="1"/>
<rect x="731" y="359" width="10" height="1"/>
<rect x="92" y="346" width="11" height="1"/>
<rect x="731" y="346" width="10" height="1"/>
<rect x="92" y="335" width="11" height="1"/>
<rect x="731" y="335" width="10" height="1"/>
<rect x="92" y="327" width="11" height="1"/>
<rect x="731" y="327" width="10" height="1"/>
<rect x="92" y="320" width="11" height="1"/>
<rect x="731" y="320" width="10" height="1"/>
<rect x="92" y="314" width="11" height="1"/>
<rect x="731" y="314" width="10" height="1"/>
<rect x="92" y="308" width="11" height="1"/>
<rect x="731" y="308" width="10" height="1"/>
<rect x="92" y="303" width="22" height="1"/>
<rect x="720" y="303" width="21" height="1"/>
<rect x="92" y="271" width="11" height="1"/>
<rect x="731" y="271" width="10" height="1"/>
<rect x="92" y="253" width="11" height="1"/>
<rect x="731" y="253" width="10" height="1"/>
<rect x="92" y="239" width="11" height="1"/>
<rect x="731" y="239" width="10" height="1"/>
<rect x="92" y="229" width="11" height="1"/>
<rect x="731" y="229" width="10" height="1"/>
<rect x="92" y="221" width="11" height="1"/>
<rect x="731" y="221" width="10" height="1"/>
<rect x="92" y="214" width="11" height="1"/>
<rect x="731" y="214" width="10" height="1"/>
<rect x="92" y="207" width="11" height="1"/>
<rect x="731" y="207" width="10" height="1"/>
<rect x="92" y="202" width="11" height="1"/>
<rect x="731" y="202" width="10" height="1"/>
<rect x="92" y="197" width="22" height="1"/>
<rect x="720" y="197" width="21" height="1"/>
<rect x="92" y="165" width="11" height="1"/>
<rect x="731" y="165" width="10" height="1"/>
<rect x="92" y="146" width="11" height="1"/>
<rect x="731" y="146" width="10" height="1"/>
<rect x="92" y="133" width="11" height="1"/>
<rect x="731" y="133" width="10" height="1"/>
<rect x="92" y="123" width="11" height="1"/>
<rect x="731" y="123" width="10" height="1"/>
<rect x="92" y="114" width="11" height="1"/>
<rect x="731" y="114" width="10" height="1"/>
<rect x="92" y="107" width="11" height="1"/>
<rect x="731" y="107" width="10" height="1"/>
<rect x="92" y="101" width="11" height="1"/>
<rect x="731" y="101" width="10" height="1"/>
<rect x="92" y="96" width="11" height="1"/>
<rect x="731" y="96" width="10" height="1"/>
<rect x="92" y="91" width="22" height="1"/>
<rect x="720" y="91" width="21" height="1"/>
<rect x="92" y="59" width="11" height="1"/>
<rect x="731" y="59" width="10" height="1"/>
<rect x="92" y="40" width="11" height="1"/>
<rect x="731" y="40" width="10" height="1"/>
<rect x="92" y="916" width="14" height="1"/>
<rect x="728" y="916" width="13" height="1"/>
<rect x="92" y="884" width="9" height="1"/>
<rect x="732" y="884" width="9" height="1"/>
<rect x="92" y="857" width="9" height="1"/>
<rect x="732" y="857" width="9" height="1"/>
<rect x="92" y="834" width="9" height="1"/>
<rect x="732" y="834" width="9" height="1"/>
<rect x="92" y="813" width="9" height="1"/>
<rect x="732" y="813" width="9" height="1"/>
<rect x="92" y="795" width="14" height="1"/>
<rect x="728" y="795" width="13" height="1"/>
<rect x="92" y="778" width="9" height="1"/>
<rect x="732" y="778" width="9" height="1"/>
<rect x="92" y="763" width="9" height="1"/>
<rect x="732" y="763" width="9" height="1"/>
<rect x="92" y="749" width="9" height="1"/>
<rect x="732" y="749" width="9" height="1"/>
<rect x="92" y="736" width="9" height="1"/>
<rect x="732" y="736" width="9" height="1"/>
<rect x="92" y="724" width="14" height="1"/>
<rect x="728" y="724" width="13" height="1"/>
<rect x="92" y="713" width="9" height="1"/>
<rect x="732" y="713" width="9" height="1"/>
<rect x="92" y="702" width="9" height="1"/>
<rect x="732" y="702" width="9" height="1"/>
<rect x="92" y="692" width="9" height="1"/>
<rect x="732" y="692" width="9" height="1"/>
<rect x="92" y="683" width="9" height="1"/>
<rect x="732" y="683" width="9" height="1"/>
<rect x="92" y="674" width="14" height="1"/>
<rect x="728" y="674" width="13" height="1"/>
<rect x="92" y="665" width="9" height="1"/>
<rect x="732" y="665" width="9" height="1"/>
<rect x="92" y="657" width="9" height="1"/>
<rect x="732" y="657" width="9" height="1"/>
<rect x="92" y="649" width="9" height="1"/>
<rect x="732" y="649" width="9" height="1"/>
<rect x="92" y="642" width="9" height="1"/>
<rect x="732" y="642" width="9" height="1"/>
</g>
<text x="103.46" y="28.60" font-size="24.2" text-anchor="start" fill="#000" >13000 GeV pp</text>
<text x="686.79" y="28.80" font-size="24.2" text-anchor="start" fill="#000" >Jets</text>
<text x="62.67" y="86.6" font-size="24.17">CMS, 13 TeV, AK8 jets, central dijet region, 1000 <tspan dy="2.3">&lt;</tspan><tspan dy="-2.3">p</tspan></text>
<text x="614.34" y="70.50" font-size="15.5" text-anchor="start" fill="#000" >{jet</text>
<text x="613.75" y="99.00" font-size="15.5" text-anchor="start" fill="#000" >T</text>
<text x="636.00" y="86.6" font-size="24.0">}<tspan dy="2.3">&lt;</tspan><tspan dy="-2.3"> 4000 GeV</tspan></text>
<text x="520.41" y="1006.70" font-size="25.25" text-anchor="start" fill="#000" >width (charged-only)</text>
<text x="96.97" y="978.30" font-size="23.5" text-anchor="start" fill="#000" >0</text>
<text x="400.90" y="978.30" font-size="23.5" text-anchor="start" fill="#000" >0.5</text>
<text x="723.74" y="978.30" font-size="23.5" text-anchor="start" fill="#000" >1</text>
<text x="65.11" y="683.18" font-size="23.5" text-anchor="start" fill="#000" >2</text>
<text x="747.52" y="683.18" font-size="23.5" text-anchor="start" fill="#000" >2</text>
<text x="65.08" y="804.10" font-size="23.5" text-anchor="start" fill="#000" >1</text>
<text x="746.91" y="804.10" font-size="23.5" text-anchor="start" fill="#000" >1</text>
<text x="45.32" y="925.02" font-size="23.5" text-anchor="start" fill="#000" >0.5</text>
<text x="747.78" y="925.02" font-size="23.5" text-anchor="start" fill="#000" >0.5</text>
<text x="71.71" y="92.00" font-size="15" text-anchor="start" fill="#000" >2</text>
<text x="47.26" y="101.20" font-size="22" text-anchor="start" fill="#000" >10</text>
<text x="54.69" y="206.10" font-size="22" text-anchor="start" fill="#000" >10</text>
<text x="70.04" y="311.40" font-size="22" text-anchor="start" fill="#000" >1</text>
<text x="62.93" y="411.40" font-size="15" text-anchor="start" fill="#000" >−1</text>
<text x="38.46" y="421.60" font-size="22" text-anchor="start" fill="#000" >10</text>
<text x="62.95" y="517.60" font-size="15" text-anchor="start" fill="#000" >−2</text>
<text x="38.48" y="527.80" font-size="22" text-anchor="start" fill="#000" >10</text>
<text x="62.86" y="623.80" font-size="15" text-anchor="start" fill="#000" >−3</text>
<text x="38.39" y="634.00" font-size="22" text-anchor="start" fill="#000" >10</text>
<text x="36.60" y="846.34" font-size="17.9" text-anchor="start" fill="#000" transform="rotate(-90 36.60 846.34)" >Ratio to CMS</text>
<text x="761.00" y="254.55" font-size="18.9" text-anchor="start" fill="#666" transform="rotate(-90 761.00 254.55)" >Rivet 4.1.0, </text>
<text x="761.00" y="138.08" font-size="18.9" text-anchor="start" fill="#666" transform="rotate(-90 761.00 138.08)" >100k events</text>
<text x="761.30" y="154.69" font-size="22.5" text-anchor="start" fill="#666" transform="rotate(-90 761.30 154.69)" >≥</text>
<text x="762.20" y="629.56" font-size="19.0" text-anchor="start" fill="#666" transform="rotate(-90 762.20 629.56)" >mcplots.cern.ch [arXiv:1306.3436]</text>
<text x="333.75" y="604.50" font-size="15.9" text-anchor="start" fill="#999" >(CMS_2021_I1920187)</text>
<g>
<rect x="20" y="35" width="2" height="93" fill="#000" shape-rendering="crispEdges"/>
<rect x="20" y="140" width="2" height="113" fill="#000" shape-rendering="crispEdges"/>
<text x="28.00" y="267.15" font-size="25.0" text-anchor="start" fill="#000" transform="rotate(-90 28.00 267.15)" >#</text>
<text x="28.00" y="140.95" font-size="25.0" text-anchor="start" fill="#000" transform="rotate(-90 28.00 140.95)" >#</text>
<text x="17.80" y="203.49" font-size="25.0" text-anchor="start" fill="#000" transform="rotate(-90 17.80 203.49)" >1</text>
<text x="43.00" y="246.75" font-size="25.0" text-anchor="start" fill="#000" transform="rotate(-90 43.00 246.75)" >d</text>
<text x="43.00" y="225.95" font-size="25.0" text-anchor="start" fill="#000" transform="rotate(-90 43.00 225.95)" >N</text>
<text x="43.00" y="202.00" font-size="25.0" text-anchor="start" fill="#000" transform="rotate(-90 43.00 202.00)" >/</text>
<text x="43.00" y="182.55" font-size="25.0" text-anchor="start" fill="#000" transform="rotate(-90 43.00 182.55)" >d</text>
<text x="43.00" y="163.31" font-size="25.0" text-anchor="start" fill="#000" transform="rotate(-90 43.00 163.31)" >p</text>
<text x="56.00" y="151.76" font-size="16.2" text-anchor="start" fill="#000" transform="rotate(-90 56.00 151.76)" >T</text>
<text x="43.30" y="121.35" font-size="25.0" text-anchor="start" fill="#000" transform="rotate(-90 43.30 121.35)" >d</text>
<text x="43.30" y="100.41" font-size="25.0" text-anchor="start" fill="#000" transform="rotate(-90 43.30 100.41)" >p</text>
<text x="43.30" y="65.05" font-size="25.0" text-anchor="start" fill="#000" transform="rotate(-90 43.30 65.05)" >d</text>
<text x="43.30" y="48.17" font-size="25.0" text-anchor="start" fill="#000" transform="rotate(-90 43.30 48.17)" >λ</text>
<text x="57.00" y="88.76" font-size="16.2" text-anchor="start" fill="#000" transform="rotate(-90 57.00 88.76)" >T</text>
<text x="16.80" y="95.85" font-size="25.0" text-anchor="start" fill="#000" transform="rotate(-90 16.80 95.85)" >d</text>
<text x="5.90" y="83.78" font-size="15.5" text-anchor="start" fill="#000" transform="rotate(-90 5.90 83.78)" >2</text>
<text x="16.80" y="75.05" font-size="25.0" text-anchor="start" fill="#000" transform="rotate(-90 16.80 75.05)" >N</text>
</g>
<rect x="147.80" y="390.60" width="10.8" height="10.8" fill="#000"/>
<text x="186.83" y="402.40" font-size="19.08" text-anchor="start" fill="#000" >CMS</text>
<line x1="128.8" y1="422.1" x2="177.0" y2="422.1" stroke="#9b0019" stroke-width="1.5"/>
<path d="M153.20 416.70 L159.10 427.50 L147.30 427.50 Z" fill="none" stroke="#9b0019" stroke-width="1.5" stroke-linejoin="miter"/>
<text x="186.23" y="428.50" font-size="19.08" text-anchor="start" fill="#000" >Pythia 6.428 370</text>
<line x1="128.8" y1="447.8" x2="177.0" y2="447.8" stroke="#7a00c0" stroke-width="1.5" stroke-dasharray="1.6 2.5"/>
<path d="M153.20 443.80 L157.70 451.80 L148.70 451.80 Z" fill="none" stroke="#7a00c0" stroke-width="1.5" stroke-linejoin="miter"/>
<text x="186.23" y="454.20" font-size="19.08" text-anchor="start" fill="#000" >Pythia 6.428 373</text>
<line x1="128.8" y1="473.8" x2="177.0" y2="473.8" stroke="#1e00f0" stroke-width="1.5" stroke-dasharray="4.2 4.1"/>
<circle cx="153.20" cy="473.80" r="4.70" fill="none" stroke="#1e00f0" stroke-width="1.6"/>
<text x="186.23" y="480.20" font-size="19.08" text-anchor="start" fill="#000" >Pythia 6.428 374</text>
<line x1="128.8" y1="499.8" x2="177.0" y2="499.8" stroke="#00e1b9" stroke-width="1.5" stroke-dasharray="1.6 2.5"/>
<circle cx="153.20" cy="499.80" r="5.35" fill="none" stroke="#00e1b9" stroke-width="1.6"/>
<text x="186.23" y="506.20" font-size="19.08" text-anchor="start" fill="#000" >Pythia 6.428 375</text>
<line x1="128.8" y1="526.0" x2="177.0" y2="526.0" stroke="#b2804d" stroke-width="1.5" stroke-dasharray="4.2 4.1"/>
<path d="M153.20 520.80 L158.60 531.20 L147.80 531.20 Z" fill="#b2804d"/>
<text x="186.23" y="532.40" font-size="19.08" text-anchor="start" fill="#000" >Pythia 6.428 381</text>
<line x1="128.8" y1="552.0" x2="177.0" y2="552.0" stroke="#e41a4b" stroke-width="1.5" stroke-dasharray="4.2 5.4 1.5 5.4"/>
<path d="M153.20 557.20 L158.60 546.80 L147.80 546.80 Z" fill="#e41a4b"/>
<text x="186.23" y="558.40" font-size="19.08" text-anchor="start" fill="#000" >Pythia 6.428 382</text>
</svg>
</body>
</html>
